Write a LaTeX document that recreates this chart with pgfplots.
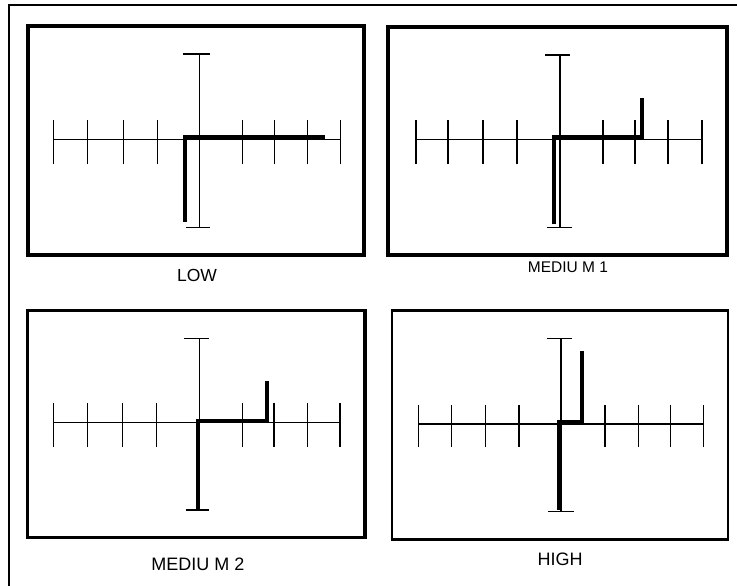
\documentclass[border=0pt]{standalone}
\usepackage{pgfplots}
\pgfplotsset{compat=1.18}
\usepackage{fontspec}
\setmainfont{Liberation Sans}
\begin{document}
\begin{tikzpicture}[x=1pt,y=1pt]
\path[use as bounding box] (0,0) rectangle (737,586);
\draw[line width=1.5pt] (9,0) -- (9,581) -- (737,581);
\pgfplotsset{
  panel/.style={scale only axis, axis line style={line width=3.5pt},
    xtick=\empty, ytick=\empty, clip=false, anchor=south west},
  ax/.style={black, line width=1.4pt, forget plot},
  tr/.style={black, line width=4pt, line join=miter, forget plot}}

% LOW
\begin{axis}[panel, at={(28,331)}, width=336pt, height=229pt,
  xmin=-171.3, xmax=164.7, ymin=-115.7, ymax=113.3]
\addplot[ax] coordinates {(-146,0) (141,0)};
\addplot[ax] coordinates {(0,-88.4) (0,85.3)};
\addplot[ax] coordinates {(-16,85.3) (10.7,85.3)};
\addplot[ax] coordinates {(-13.6,-88.4) (10.7,-88.4)};
\pgfplotsinvokeforeach{-146,-112,-76,-42,43,75,108,141}{
  \addplot[ax] coordinates {(#1,-25) (#1,19)};}
\addplot[tr] coordinates {(-14.3,-82.4) (-14.3,2.3) (126,2.3)};
\end{axis}

% MEDIUM 1
\begin{axis}[panel, at={(388,331)}, width=339pt, height=228pt,
  xmin=-172, xmax=167, ymin=-115.7, ymax=112.3]
\addplot[ax] coordinates {(-144,0) (142,0)};
\addplot[ax] coordinates {(0,-88.4) (0,84.3)};
\addplot[ax] coordinates {(-15,84.3) (10,84.3)};
\addplot[ax] coordinates {(-13.3,-88.4) (11.7,-88.4)};
\pgfplotsinvokeforeach{-144,-112,-77,-43,43,75,108,142}{
  \addplot[ax] coordinates {(#1,-25) (#1,19.3)};}
\addplot[tr] coordinates {(-6.5,-85) (-6.5,2) (81.7,2) (81.7,41.6)};
\end{axis}

% MEDIUM 2
\begin{axis}[panel, at={(27.3,48.7)}, width=337.7pt, height=226.6pt,
  xmin=-172, xmax=165.7, ymin=-115, ymax=111.6]
\addplot[ax] coordinates {(-146,0) (140.7,0)};
\addplot[ax] coordinates {(0,-87.7) (0,84)};
\addplot[ax] coordinates {(-15.3,84) (10,84)};
\addplot[ax] coordinates {(-13.6,-87.7) (10,-87.7)};
\pgfplotsinvokeforeach{-146,-112,-76.6,-42.6,43,74.7,108,140.7}{
  \addplot[ax] coordinates {(#1,-24.4) (#1,19)};}
\addplot[tr] coordinates {(-1.6,-87.7) (-1.6,1.3) (67.4,1.3) (67.4,41.6)};
\end{axis}

% HIGH
\begin{axis}[panel, at={(391.7,46.7)}, width=336.6pt, height=228.6pt,
  xmin=-169.3, xmax=167.3, ymin=-115.3, ymax=113.3,
  axis line style={line width=2.2pt}]
\addplot[ax] coordinates {(-142.7,0) (142.3,0)};
\addplot[ax] coordinates {(0,-87.7) (0,85.7)};
\addplot[ax] coordinates {(-14.3,85.7) (10.7,85.7)};
\addplot[ax] coordinates {(-12.7,-87.7) (13,-87.7)};
\pgfplotsinvokeforeach{-142.7,-109.3,-75.3,-42,44,77.3,109.7,142.3}{
  \addplot[ax] coordinates {(#1,-22.7) (#1,19)};}
\addplot[tr] coordinates {(-1.7,-86) (-1.7,2.3) (20.7,2.3) (20.7,73)};
\addplot[black, line width=3.5pt, forget plot] coordinates {(-170.4,113.3) (168.4,113.3)};
\addplot[black, line width=3.5pt, forget plot] coordinates {(-170.4,-115.3) (168.4,-115.3)};
\end{axis}

\node[font=\fontsize{17.5}{20}\selectfont] at (197,311) {LOW};
\node[font=\fontsize{15.5}{18}\selectfont] at (568,318.5) {MEDIU M 1};
\node[font=\fontsize{18}{21}\selectfont] at (198,22) {MEDIU M 2};
\node[font=\fontsize{18}{21}\selectfont] at (560,27) {HIGH};
\end{tikzpicture}
\end{document}
